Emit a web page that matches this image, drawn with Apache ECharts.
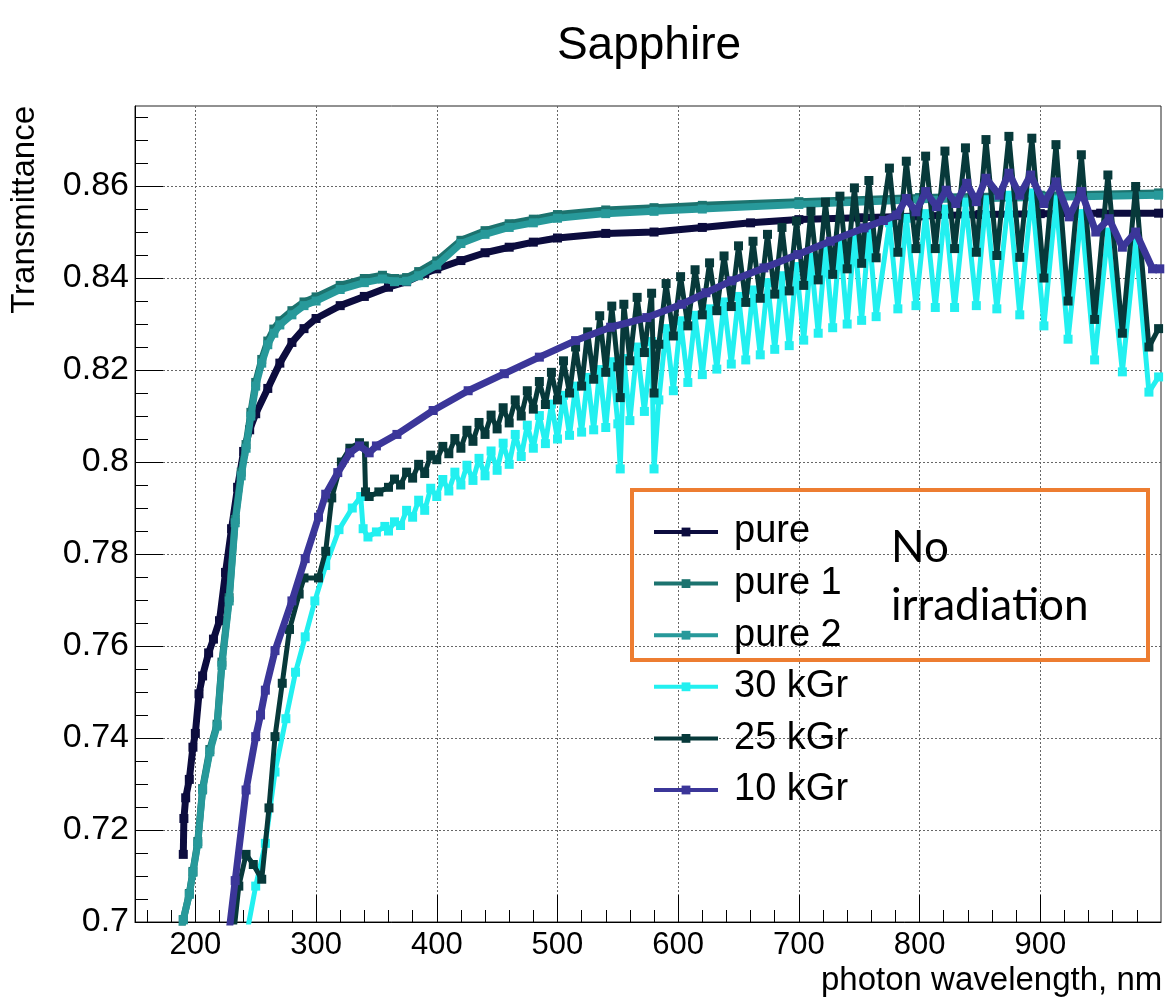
<!DOCTYPE html>
<html><head><meta charset="utf-8">
<script src="https://cdn.jsdelivr.net/npm/echarts@6/dist/echarts.min.js"></script>
<style>html,body{margin:0;padding:0;background:#fff}#c{width:1168px;height:998px}</style>
</head><body><div id="c"></div>
<script>
// ---------- data (wavelength nm, transmittance) ----------
const pureWl = [190, 190.5, 192, 195, 198, 200, 203, 206, 211, 215, 220, 225, 230, 235, 240, 245, 250, 260, 270, 280, 290, 300, 320, 340, 360, 375, 390, 400, 420, 440, 460, 480, 500, 540, 580, 620, 660, 700, 750, 800, 850, 900, 950, 998];
const pureT  = [0.7147, 0.7225, 0.727, 0.731, 0.738, 0.741, 0.7496, 0.7535, 0.7585, 0.7615, 0.7655, 0.776, 0.7855, 0.7945, 0.8023, 0.807, 0.8105, 0.816, 0.8215, 0.826, 0.829, 0.8312, 0.834, 0.836, 0.838, 0.8392, 0.841, 0.842, 0.8438, 0.8455, 0.8467, 0.8478, 0.8487, 0.8497, 0.850, 0.851, 0.852, 0.8527, 0.8531, 0.8535, 0.8538, 0.854, 0.8541, 0.8541];

const pure12Wl = [186, 190, 195, 198, 202, 206, 212, 218, 222, 228, 233, 238, 242, 246, 250, 255, 260, 265, 270, 280, 290, 300, 320, 340, 355, 365, 375, 385, 400, 420, 440, 460, 480, 500, 540, 580, 620, 700, 800, 900, 998];
const pure1T = [0.695, 0.7005, 0.7062, 0.711, 0.7175, 0.729, 0.7375, 0.743, 0.7565, 0.7705, 0.7875, 0.7978, 0.8038, 0.8108, 0.8173, 0.8223, 0.8263, 0.8289, 0.8307, 0.8329, 0.8348, 0.8359, 0.8384, 0.8399, 0.8406, 0.8399, 0.8401, 0.8414, 0.8437, 0.8482, 0.8503, 0.8518, 0.8528, 0.8538, 0.8548, 0.8553, 0.8558, 0.8566, 0.8575, 0.858, 0.8585];
const pure2T = [0.695, 0.7005, 0.706, 0.7108, 0.717, 0.7287, 0.737, 0.7426, 0.7558, 0.7698, 0.7868, 0.797, 0.803, 0.810, 0.8165, 0.8215, 0.8255, 0.828, 0.8298, 0.832, 0.834, 0.835, 0.8375, 0.839, 0.8398, 0.8392, 0.8393, 0.8405, 0.8428, 0.8475, 0.8495, 0.851, 0.852, 0.853, 0.854, 0.8545, 0.855, 0.856, 0.857, 0.8575, 0.858];

const k10Wl = [228, 233, 242, 250, 254, 258, 266, 280, 291, 302, 308, 318, 328, 336, 344, 350, 367, 397, 426, 456, 485, 515, 544, 574, 603, 623, 644, 671, 699, 726, 754, 770, 781, 789, 797, 805, 814, 822, 830, 839, 847, 855, 866, 874, 883, 892, 903, 913, 924, 934, 946, 957, 968, 979, 993, 999];
const k10T  = [0.698, 0.709, 0.7287, 0.7403, 0.745, 0.7504, 0.759, 0.7698, 0.779, 0.788, 0.793, 0.7977, 0.802, 0.8035, 0.802, 0.8035, 0.806, 0.8112, 0.8155, 0.8192, 0.8228, 0.8264, 0.8293, 0.8314, 0.8343, 0.8368, 0.8394, 0.8422, 0.8451, 0.848, 0.8509, 0.8525, 0.8537, 0.8573, 0.8544, 0.8588, 0.8555, 0.8591, 0.8562, 0.8606, 0.8566, 0.8617, 0.858, 0.8628, 0.858, 0.8624, 0.8562, 0.8609, 0.8533, 0.8588, 0.85, 0.8529, 0.8467, 0.85, 0.842, 0.842];

// steep rise parts of irradiated samples
const k25RiseWl = [232, 236, 242, 248, 255, 261, 266, 272, 278, 286, 290, 302, 308, 313, 321, 328, 336, 340, 341, 344, 352];
const k25RiseT  = [0.698, 0.7078, 0.7147, 0.7125, 0.7093, 0.7248, 0.7403, 0.7519, 0.7636, 0.7713, 0.7748, 0.7748, 0.7806, 0.7922, 0.800, 0.803, 0.8042, 0.8035, 0.7935, 0.7925, 0.7935];
const k30RiseWl = [243, 250, 258, 266, 275, 283, 291, 299, 308, 319, 330, 337, 339, 343, 350, 357];
const k30RiseT  = [0.698, 0.7078, 0.7171, 0.7326, 0.7442, 0.7543, 0.762, 0.7698, 0.7775, 0.7853, 0.790, 0.7925, 0.7855, 0.7837, 0.7848, 0.786];

// interference-fringe region (alternating maxima / minima)
const fringeWl = [360,365,370,375,380,385,390,395,400,405,410,415,420,425,430,435,440,445,450,455,460,465,470,475,480,485,490,495,500,505,510,515,520,525,530,535,540,545,550,552,555,560,566,572,578,580,584,590,596,602,608,614,620,626,632,638,644,650,656,662,668,674,680,686,692,698,704,710,716,722,728,734,740,746,752,758,764,775,782,789,797,805,813,821,829,838,847,855,864,874,883,893,903,913,923,934,945,956,968,979,990,998];
const k25FringeT = [0.7945,0.7963,0.7950,0.7978,0.7965,0.7995,0.7975,0.8015,0.8005,0.8034,0.8018,0.8051,0.8030,0.8069,0.8045,0.8086,0.8060,0.8102,0.8072,0.8118,0.8085,0.8135,0.8100,0.8155,0.8115,0.8175,0.8125,0.8195,0.8135,0.8220,0.8150,0.8250,0.8165,0.8283,0.8180,0.8318,0.8195,0.8339,0.8207,
  0.8140,0.8343,0.8220,0.8358,0.8238,0.8367,0.8150,
  0.8256,0.8388,0.8274,0.8403,0.8296,0.8418,0.8320,0.8433,0.8329,0.8448,0.8338,0.8470,0.8347,0.8480,0.8356,0.8495,0.8365,0.8510,0.8372,0.8524,0.8384,0.8545,0.8396,0.8565,0.8408,0.8578,0.8420,0.8596,0.8432,0.8612,0.8444,
  0.8639,0.8456,0.8654,0.8464,0.8665,0.8464,0.8676,0.8464,0.8683,0.8456,0.8701,0.8449,0.8708,0.8445,0.8704,0.840,0.869,0.835,0.8668,0.831,0.8624,0.828,0.8599,0.825,0.829];
const k30FringeT = [0.7850,0.7870,0.7862,0.7895,0.7880,0.7917,0.7895,0.7943,0.7925,0.7962,0.7937,0.7978,0.7950,0.7993,0.7960,0.8008,0.7970,0.8024,0.7982,0.8041,0.7995,0.8060,0.8012,0.8080,0.8030,0.8101,0.8040,0.8126,0.8050,0.8145,0.8058,0.8165,0.8065,0.8184,0.8070,0.8201,0.8075,0.8218,0.8083,
  0.7985,0.8225,0.8090,0.8250,0.8110,0.8262,0.7985,
  0.8135,0.8290,0.8155,0.8307,0.8173,0.8319,0.8190,0.8333,0.8202,0.8348,0.8213,0.8360,0.8222,0.8374,0.8233,0.8390,0.8245,0.8405,0.8253,0.8425,0.8265,0.8445,0.8280,0.8465,0.8292,0.8482,0.8300,0.8492,0.8308,0.8505,0.8316,
  0.852,0.8333,0.853,0.834,0.854,0.8336,0.855,0.8336,0.8565,0.834,0.857,0.8333,0.858,0.832,0.8585,0.8296,0.857,0.8267,0.854,0.8222,0.850,0.8196,0.848,0.8152,0.8185];

// axis ticks
const xMajorTicks = [200, 300, 400, 500, 600, 700, 800, 900];
const xMinorTicks = [160,180,220,240,260,280,320,340,360,380,420,440,460,480,520,540,560,580,620,640,660,680,720,740,760,780,820,840,860,880,920,940,960,980];
const yMajorTicks = [0.70, 0.72, 0.74, 0.76, 0.78, 0.80, 0.82, 0.84, 0.86];
const yMinorTicks = [0.705,0.71,0.715,0.725,0.73,0.735,0.745,0.75,0.755,0.765,0.77,0.775,0.785,0.79,0.795,0.805,0.81,0.815,0.825,0.83,0.835,0.845,0.85,0.855,0.865,0.87,0.875];

const seriesNames = ['pure', 'pure 1', 'pure 2', '30 kGr', '25 kGr', '10 kGr'];
const seriesColors = ['#0c0c3e', '#1c736f', '#27999a', '#22f0f0', '#07393a', '#3b3699'];

// ---------- build ----------
function pairs(xs, ys) { return xs.map((x, i) => [x, ys[i]]); }
const seriesData = [
  pairs(pureWl, pureT),
  pairs(pure12Wl, pure1T),
  pairs(pure12Wl, pure2T),
  pairs(k30RiseWl.concat(fringeWl), k30RiseT.concat(k30FringeT)),
  pairs(k25RiseWl.concat(fringeWl), k25RiseT.concat(k25FringeT)),
  pairs(k10Wl, k10T)
];
const lineWidths = [7, 7, 7, 5, 5, 7];

const HELV = "'Liberation Sans', Arial, sans-serif";

const series = seriesNames.map((n, i) => ({
  name: n, type: 'line', data: seriesData[i],
  xAxisIndex: 0, yAxisIndex: 0,
  symbol: 'rect', symbolSize: 9, showSymbol: true,
  lineStyle: { color: seriesColors[i], width: lineWidths[i] },
  itemStyle: { color: seriesColors[i] },
  emphasis: { disabled: true },
  clip: true, animation: false, z: 2 + i
}));

const chart = echarts.init(document.getElementById('c'), null, { renderer: 'canvas' });
chart.setOption({
  backgroundColor: '#ffffff',
  animation: false,
  title: {
    text: 'Sapphire', left: 644, top: 18, textAlign: 'center',
    textStyle: { fontFamily: HELV, fontSize: 46, fontWeight: 'normal', color: '#000' }
  },
  grid: { left: 135, right: 7, top: 106, bottom: 76, containLabel: false, outerBoundsMode: 'none',
          show: true, borderColor: '#222', borderWidth: 1, backgroundColor: 'transparent' },
  legend: {
    data: seriesNames, orient: 'vertical', left: 647, top: 506,
    itemWidth: 64, itemHeight: 11, itemGap: 9.6, selectedMode: false,
    lineStyle: { width: 4 },
    textStyle: { fontFamily: HELV, fontSize: 38, lineHeight: 42, color: '#000', padding: [0, 0, 0, 11] }
  },
  xAxis: [{
    type: 'value', min: 150, max: 1000, position: 'bottom',
    name: 'photon wavelength, nm', nameLocation: 'end', nameGap: -340, nameMoveOverlap: false,
    nameTextStyle: { fontFamily: HELV, fontSize: 33, color: '#000', verticalAlign: 'top', padding: [42, 0, 0, 0] },
    axisLine: { show: true, onZero: false, lineStyle: { color: '#000', width: 1 } },
    axisTick: { show: true, inside: true, length: 27, customValues: xMajorTicks, lineStyle: { color: '#000', width: 1 } },
    axisLabel: { show: true, customValues: xMajorTicks, fontFamily: HELV, fontSize: 31, color: '#000', margin: 8 },
    splitLine: { show: true, lineStyle: { color: '#666', width: 1, type: [2, 2] } },
    minorTick: { show: false }
  }, {
    type: 'value', min: 150, max: 1000, position: 'bottom',
    axisLine: { show: false },
    axisTick: { show: true, inside: true, length: 12, customValues: xMinorTicks, lineStyle: { color: '#000', width: 1 } },
    axisLabel: { show: false },
    splitLine: { show: false }
  }],
  yAxis: [{
    type: 'value', min: 0.7, max: 0.8774, position: 'left',
    name: 'Transmittance', nameLocation: 'end', nameGap: 0, nameRotate: 90,
    nameTextStyle: { fontFamily: HELV, fontSize: 33, color: '#000', align: 'right', verticalAlign: 'bottom', padding: [0, 0, 94, 0] },
    axisLine: { show: true, onZero: false, lineStyle: { color: '#000', width: 1 } },
    axisTick: { show: true, inside: true, length: 28, customValues: yMajorTicks, lineStyle: { color: '#000', width: 1 } },
    axisLabel: { show: true, customValues: yMajorTicks, fontFamily: HELV, fontSize: 34, color: '#000', margin: 6 },
    splitLine: { show: true, lineStyle: { color: '#666', width: 1, type: [2, 2] } }
  }, {
    type: 'value', min: 0.7, max: 0.8774, position: 'left',
    axisLine: { show: false },
    axisTick: { show: true, inside: true, length: 13, customValues: yMinorTicks, lineStyle: { color: '#000', width: 1 } },
    axisLabel: { show: false },
    splitLine: { show: false }
  }],
  series: series,
  graphic: [
    { type: 'rect', shape: { x: 632, y: 490, width: 516, height: 170 },
      style: { fill: 'transparent', stroke: '#ed7d31', lineWidth: 4 }, z: 100 },
    { type: 'text', x: 891, y: 548, style: { text: 'No', font: "44px Lato, 'Open Sans', sans-serif", fill: '#000', textVerticalAlign: 'middle' }, z: 100 },
    { type: 'text', x: 891, y: 606, style: { text: 'irradiation', font: "44px Lato, 'Open Sans', sans-serif", fill: '#000', textVerticalAlign: 'middle' }, z: 100 }
  ]
});
</script>
</body></html>
